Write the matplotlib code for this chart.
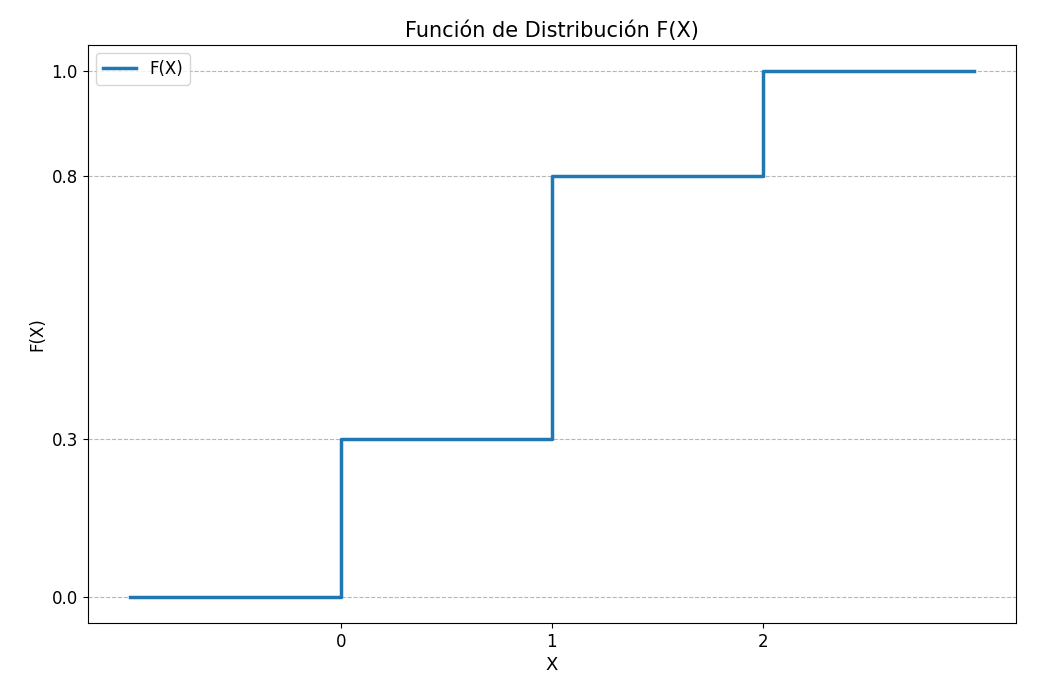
import matplotlib
matplotlib.use("Agg")
import matplotlib.pyplot as plt

x_vals = [-1, 0, 1, 2, 3]
f_vals = [0.0, 0.3, 0.8, 1.0, 1.0]
x_ticks = [0, 1, 2]
y_ticks = [0.0, 0.3, 0.8, 1.0]

fig, ax = plt.subplots(figsize=(10.56, 6.94), dpi=100)
ax.step(x_vals, f_vals, where='post', linewidth=2.5, label='F(X)')
ax.set_xticks(x_ticks)
ax.set_yticks(y_ticks)
ax.grid(axis='y', linestyle='--', color='#b0b0b0', alpha=0.9)
ax.set_xlabel('X', fontsize=13)
ax.set_ylabel('F(X)', fontsize=12)
ax.set_title('Función de Distribución F(X)', fontsize=15)
ax.tick_params(labelsize=12)
ax.legend(loc='upper left', fontsize=12)
fig.subplots_adjust(left=0.083, right=0.962, top=0.935, bottom=0.102)
fig.savefig('out.png')
